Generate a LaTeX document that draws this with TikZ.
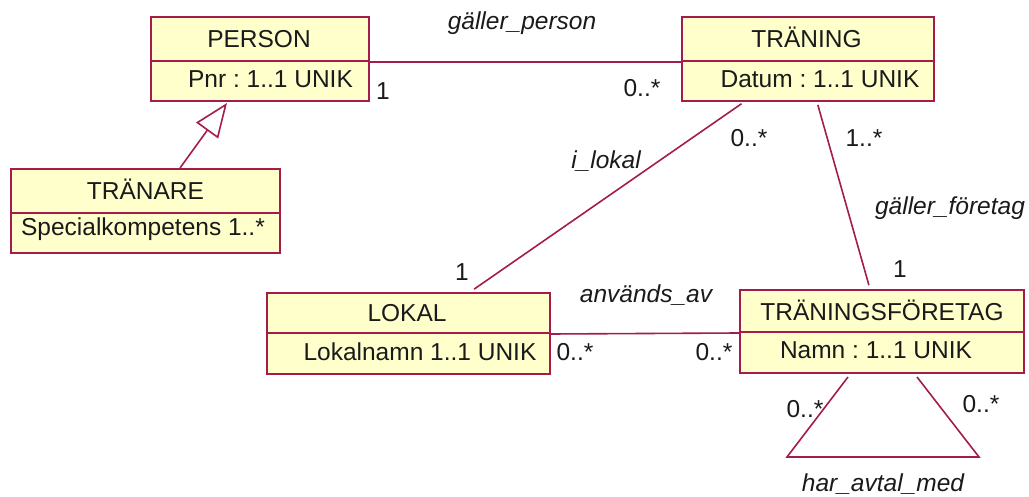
\documentclass[tikz,border=0pt]{standalone}
\usepackage{fontspec}
\setmainfont{Liberation Sans}
\usetikzlibrary{arrows.meta,calc}
\definecolor{umlline}{HTML}{A31C4C}
\definecolor{umlfill}{HTML}{FFFFCC}
\definecolor{umltext}{HTML}{1A1A1A}
\frenchspacing

\begin{document}
\begin{tikzpicture}[x=1pt,y=-1pt,
  every node/.style={font=\fontsize{24.5}{29}\selectfont, inner sep=0pt, text=umltext},
  classbox/.style={draw=umlline, fill=umlfill, line width=2pt, anchor=north west},
  txt/.style={anchor=base},
  role/.style={anchor=base, font=\fontsize{24.5}{29}\selectfont\itshape},
  assoc/.style={draw=umlline, line width=1.6pt},
  gen/.style={draw=umlline, line width=1.6pt,
    -{Triangle[open, length=34pt, width=27pt, fill=white]}}
]
\useasboundingbox (0,0) rectangle (1029,497);

% ---- classes: header compartment + attribute compartment ----
\node[classbox, minimum width=218pt, minimum height=44pt] (personH) at (150,16) {};
\node[classbox, minimum width=218pt, minimum height=40pt] (personA) at (150,60) {};
\node[txt] (personT) at (259,48) {PERSON};
\node[txt] (personX) at (270.5,88) {Pnr : 1..1 UNIK};

\node[classbox, minimum width=252pt, minimum height=44pt] (traningH) at (681,16) {};
\node[classbox, minimum width=252pt, minimum height=40pt] (traningA) at (681,60) {};
\node[txt] (traningT) at (806.5,48) {TRÄNING};
\node[txt] (traningX) at (820,88) {Datum : 1..1 UNIK};

\node[classbox, minimum width=269pt, minimum height=44pt] (tranareH) at (10,168) {};
\node[classbox, minimum width=269pt, minimum height=40pt] (tranareA) at (10,212) {};
\node[txt] (tranareT) at (145.5,200) {TRÄNARE};
\node[txt] (tranareX) at (143,236) {Specialkompetens 1..*};

\node[classbox, minimum width=283pt, minimum height=40pt] (lokalH) at (266,292) {};
\node[classbox, minimum width=283pt, minimum height=41pt] (lokalA) at (266,332) {};
\node[txt] (lokalT) at (407,322) {LOKAL};
\node[txt] (lokalX) at (420,360) {Lokalnamn 1..1 UNIK};

\node[classbox, minimum width=284pt, minimum height=42pt] (foretagH) at (739,289) {};
\node[classbox, minimum width=284pt, minimum height=41pt] (foretagA) at (739,331) {};
\node[txt] (foretagT) at (882,321) {TRÄNINGSFÖRETAG};
\node[txt] (foretagX) at (876,359) {Namn : 1..1 UNIK};

% ---- generalization ----
\draw[gen] ($(tranareH.north west)+(170,0)$) -- ($(personA.south west)+(77,1)$);

% ---- associations ----
\draw[assoc] (personH.south east) -- (traningH.south west);
\draw[assoc, shorten <=3pt, shorten >=5pt]
  ($(traningA.south west)+(63,0)$) -- ($(lokalH.north west)+(204,0)$);
\draw[assoc, shorten <=3pt, shorten >=4pt]
  ($(traningA.south west)+(136,0)$) -- ($(foretagH.north west)+(131,0)$);
\draw[assoc] (lokalH.south east) -- (foretagH.south west);

% reflexive association on TRÄNINGSFÖRETAG
\coordinate (selfL) at (787,457);
\coordinate (selfR) at (979,457);
\draw[assoc, line join=miter]
  ($(foretagA.south west)+(109,3)$) -- (selfL) -- (selfR) -- ($(foretagA.south west)+(178,3)$);

% ---- association names ----
\node[role] (nPerson) at (522,30) {gäller\_person};
\node[role] (nLokal) at (606,169) {i\_lokal};
\node[role] (nForetag) at (950,215) {gäller\_företag};
\node[role] (nAnvands) at (646,303) {används\_av};
\node[role] (nAvtal) at (883,491.5) {har\_avtal\_med};

% ---- multiplicities ----
\node[txt] (m1) at (383,100) {1};
\node[txt] (m2) at (642,97) {0..*};
\node[txt] (m3) at (749,147) {0..*};
\node[txt] (m4) at (864,147) {1..*};
\node[txt] (m5) at (462,281) {1};
\node[txt] (m6) at (900,278) {1};
\node[txt] (m7) at (575,360) {0..*};
\node[txt] (m8) at (714,360) {0..*};
\node[txt] (m9) at (805,417) {0..*};
\node[txt] (m10) at (981,412) {0..*};
\end{tikzpicture}
\end{document}
